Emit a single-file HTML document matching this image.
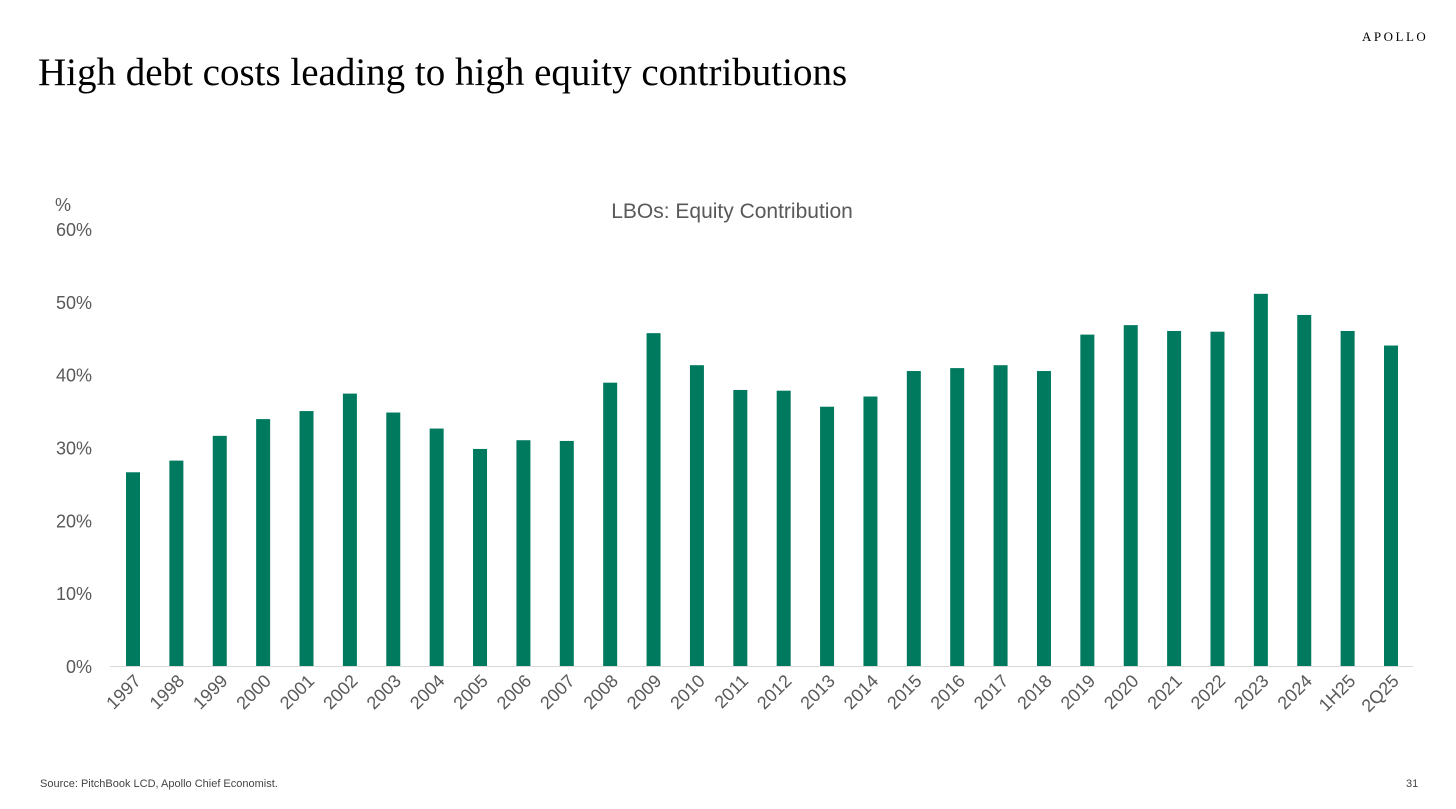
<!DOCTYPE html>
<html><head><meta charset="utf-8"><style>
body{margin:0;width:1456px;height:809px;background:#fff;overflow:hidden;position:relative;font-family:"Liberation Sans",sans-serif}
.t{position:absolute}
</style></head><body>
<div class="t" style="left:38px;top:50px;font-family:'Liberation Serif',serif;font-size:39px;color:#000;white-space:nowrap">High debt costs leading to high equity contributions</div>
<div class="t" style="left:1362px;top:29px;font-family:'Liberation Serif',serif;font-size:13px;letter-spacing:2.5px;color:#000">APOLLO</div>
<div class="t" style="left:40px;top:778px;font-size:11px;color:#444">Source: PitchBook LCD, Apollo Chief Economist.</div>
<div class="t" style="left:1406px;top:778px;font-size:11px;color:#444">31</div>
<svg id="chart" width="1456" height="809" style="position:absolute;left:0;top:0"></svg>
<script>
const categories=["1997","1998","1999","2000","2001","2002","2003","2004","2005","2006","2007","2008","2009","2010","2011","2012","2013","2014","2015","2016","2017","2018","2019","2020","2021","2022","2023","2024","1H25","2Q25"];
const values=[26.6,28.2,31.6,33.9,35.0,37.4,34.8,32.6,29.8,31.0,30.9,38.9,45.7,41.3,37.9,37.8,35.6,37.0,40.5,40.9,41.3,40.5,45.5,46.8,46.0,45.9,51.1,48.2,46.0,44.0];
const yTicks=[0,10,20,30,40,50,60];
const yTickLabels=["0%","10%","20%","30%","40%","50%","60%"];
const svg=document.getElementById('chart');const NS="http://www.w3.org/2000/svg";
function mk(tag,attrs,text){const e=document.createElementNS(NS,tag);for(const k in attrs)e.setAttribute(k,attrs[k]);if(text!==undefined)e.textContent=text;svg.appendChild(e);return e;}
const y0=666,y60=229,xL=110,xR=1413;
const yScale=v=>y0-(v/60)*(y0-y60);
const n=categories.length,first=133,last=1391,step=(last-first)/(n-1);
const xScale=i=>first+step*i;
const bw=14;
let e;
e=mk('text',{x:732,y:218,'text-anchor':'middle','font-size':21,fill:'#595959'},'LBOs: Equity Contribution');


e=mk('text',{x:55,y:211,'font-size':18,fill:'#595959'},'%');


yTicks.forEach((t,i)=>{const l=mk('text',{x:92,y:yScale(t)+7,'text-anchor':'end','font-size':18,fill:'#595959'},yTickLabels[i]);

});
values.forEach((v,i)=>{const r=mk('rect',{x:xScale(i)-bw/2,y:yScale(v),width:bw,height:y0-yScale(v),fill:'#007A5E'});


const cx=xScale(i)+9,cy=682;
const l=mk('text',{x:cx,y:cy,'text-anchor':'end','font-size':18,fill:'#595959',transform:`rotate(-45 ${cx} ${cy})`},categories[i]);

});
e=mk('line',{x1:xL,x2:xR,y1:y0+0.5,y2:y0+0.5,stroke:'#d9d9d9','stroke-width':1});


</script>
</body></html>
